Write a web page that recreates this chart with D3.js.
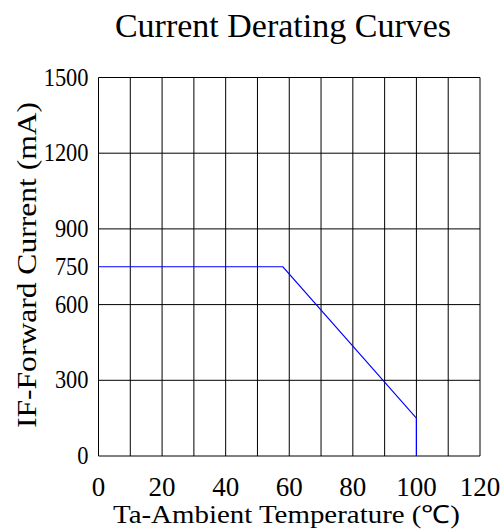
<!DOCTYPE html>
<html><head><meta charset="utf-8">
<script src="https://cdn.jsdelivr.net/npm/d3@7"></script>
<style>body{margin:0;background:#fff}svg{display:block}text{font-family:"Liberation Serif","Times New Roman",serif;fill:#000}</style>
</head><body>
<svg id="c" width="503" height="531"></svg>
<script>
const xTicks = [0,20,40,60,80,100,120];
const xGrid = [0,10,20,30,40,50,60,70,80,90,100,110,120];
const yTicks = [0,300,600,750,900,1200,1500];
const yGrid = [0,300,600,900,1200,1500];
const curveT = [0,58,100,100];
const curveI = [750,750,150,0];
const title = "Current Derating Curves";
const xLabel = "Ta-Ambient Temperature (℃)";
const yLabel = "IF-Forward Current (mA)";

const svg = d3.select("#c");
const L=98.5, R=480, T=77.5, B=456;
const x = d3.scaleLinear().domain([0,120]).range([L,R]);
const y = d3.scaleLinear().domain([0,1500]).range([B,T]);

const g = svg.append("g");
g.selectAll(".vg").data(xGrid).join("line")
  .attr("x1",d=>x(d)).attr("x2",d=>x(d)).attr("y1",T).attr("y2",B)
  .attr("stroke","#000").attr("stroke-width",1);
g.selectAll(".hg").data(yGrid).join("line")
  .attr("y1",d=>y(d)).attr("y2",d=>y(d)).attr("x1",L).attr("x2",R)
  .attr("stroke","#000").attr("stroke-width",1);

const pts = curveT.map((t,i)=>[t,curveI[i]]);
g.append("path").attr("d",d3.line().x(d=>x(d[0])).y(d=>y(d[1]))(pts))
  .attr("fill","none").attr("stroke","#0000ff").attr("stroke-width",1.2);

svg.selectAll(".yt").data(yTicks).join("text")
  .attr("x",L-10).attr("y",d=>y(d)+8).attr("text-anchor","end")
  .attr("font-size",25)
  .attr("textLength",d=>String(d).length*11.2).attr("lengthAdjust","spacingAndGlyphs")
  .text(d=>d);
svg.selectAll(".xt").data(xTicks).join("text")
  .attr("x",d=>x(d)).attr("y",496).attr("text-anchor","middle")
  .attr("font-size",27).text(d=>d);

svg.append("text").attr("x",283).attr("y",37).attr("text-anchor","middle")
  .attr("font-size",34).text(title);
svg.append("text").attr("x",113).attr("y",523)
  .attr("font-size",25).attr("textLength",347).attr("lengthAdjust","spacingAndGlyphs").text(xLabel);
svg.append("text").attr("transform","translate(36,428) rotate(-90)")
  .attr("font-size",28).attr("textLength",326).attr("lengthAdjust","spacingAndGlyphs").text(yLabel);
</script>
</body></html>
